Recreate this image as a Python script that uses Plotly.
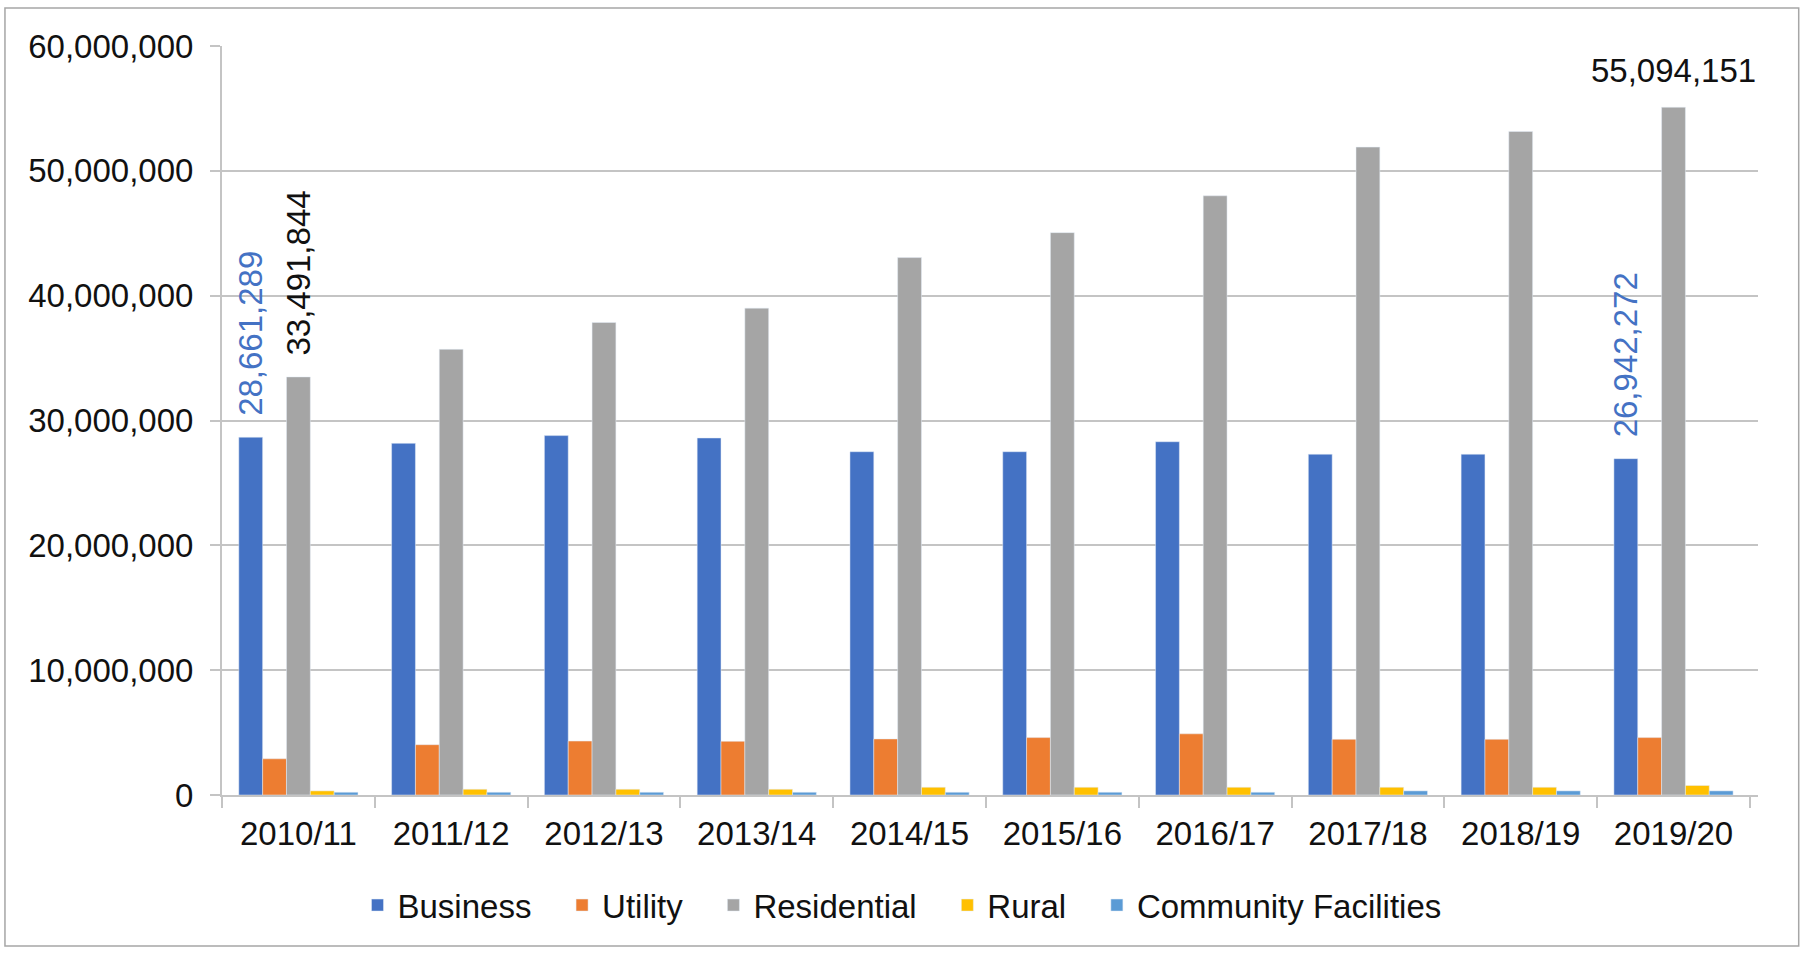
import plotly.graph_objects as go

categories = ['2010/11', '2011/12', '2012/13', '2013/14', '2014/15',
              '2015/16', '2016/17', '2017/18', '2018/19', '2019/20']
business = [28661289, 28170000, 28790000, 28600000, 27500000,
            27500000, 28300000, 27300000, 27300000, 26942272]
utility = [2900000, 4030000, 4320000, 4300000, 4490000,
           4600000, 4900000, 4460000, 4460000, 4600000]
residential = [33491844, 35700000, 37850000, 39000000, 43050000,
               45050000, 48000000, 51900000, 53150000, 55094151]
rural = [330000, 460000, 460000, 460000, 620000,
         620000, 620000, 620000, 620000, 760000]
community = [220000, 220000, 220000, 220000, 220000,
             220000, 220000, 330000, 330000, 330000]

business_labelled = ['2010/11', '2019/20']
residential_rotated_labelled = ['2010/11']
residential_flat_labelled = ['2019/20']

FONT = 'Liberation Sans, Arial, sans-serif'
GRID = '#C4C4C4'
SIZE = 33
SEP = '\u2002\u00a0'  # extra spacing between legend entries


def label_text(values, labelled):
    pad = '\u00a0\u00a0'
    return [pad + f"{v:,}" if c in labelled else '' for c, v in zip(categories, values)]


fig = go.Figure()
fig.add_trace(go.Bar(name='Business' + SEP, x=categories, y=business, marker_color='#4472C4',
                     text=label_text(business, business_labelled), textposition='outside',
                     textangle=-90, constraintext='none', cliponaxis=False,
                     textfont=dict(color='#4472C4', size=SIZE, family=FONT)))
fig.add_trace(go.Bar(name='Utility' + SEP, x=categories, y=utility, marker_color='#ED7D31'))
fig.add_trace(go.Bar(name='Residential' + SEP, x=categories, y=residential,
                     marker_color='#A5A5A5',
                     text=label_text(residential, residential_rotated_labelled),
                     textposition='outside', textangle=-90, constraintext='none',
                     cliponaxis=False,
                     textfont=dict(color='#111111', size=SIZE, family=FONT)))
fig.add_trace(go.Bar(name='Rural' + SEP, x=categories, y=rural, marker_color='#FFC000'))
fig.add_trace(go.Bar(name='Community Facilities', x=categories, y=community,
                     marker_color='#5B9BD5'))

for c, v in zip(categories, residential):
    if c in residential_flat_labelled:
        fig.add_annotation(x=c, y=v, text=f"{v:,}", showarrow=False, yanchor='bottom',
                           yshift=16, font=dict(color='#111111', size=SIZE, family=FONT))

fig.add_shape(type='rect', xref='paper', yref='paper', x0=-0.1413, x1=1.0265,
              y0=-0.2016, y1=1.0507, line=dict(color='#A6A6A6', width=1.5),
              fillcolor='rgba(0,0,0,0)', layer='below')

fig.update_layout(
    width=1804, height=953, autosize=False,
    margin=dict(l=222, r=46, t=46, b=158, autoexpand=False),
    paper_bgcolor='white', plot_bgcolor='white',
    barmode='group', bargap=0.22, bargroupgap=0,
    font=dict(family=FONT, size=SIZE, color='#111111'),
    showlegend=True,
    legend=dict(orientation='h', xref='paper', yref='paper', x=0.4427, xanchor='center',
                y=-0.147, yanchor='middle', font=dict(size=SIZE, color='#111111'),
                traceorder='normal', itemwidth=30),
    xaxis=dict(type='category', showgrid=False, showline=True, linecolor=GRID,
               linewidth=2, ticks='outside', tickson='boundaries', ticklen=11,
               tickcolor=GRID, tickwidth=2, ticklabelstandoff=8, tickangle=0,
               automargin=False,
               tickfont=dict(size=SIZE, color='#111111')),
    yaxis=dict(range=[0, 60000000], dtick=10000000, tickformat=',',
               showgrid=True, gridcolor=GRID, gridwidth=2, zeroline=False,
               showline=True, linecolor=GRID, linewidth=2, ticks='outside',
               ticklen=10, tickcolor=GRID, tickwidth=2, ticklabelstandoff=10,
               automargin=False,
               tickfont=dict(size=SIZE, color='#111111')),
)

fig.write_html('out.html')
